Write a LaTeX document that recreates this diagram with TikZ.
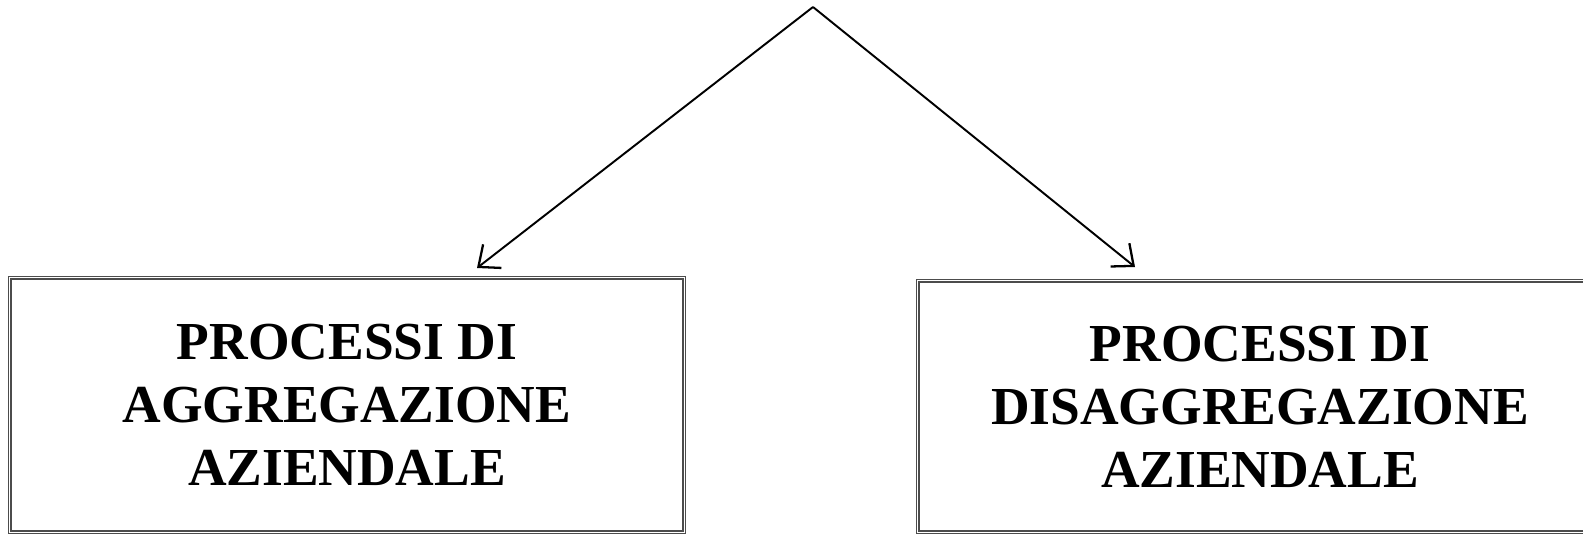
\documentclass[tikz,border=0pt]{standalone}
\usepackage{fontspec}
\setmainfont{Liberation Serif}
\usetikzlibrary{arrows.meta}

\begin{document}
\begin{tikzpicture}[x=0.01cm, y=-0.01cm]
    \useasboundingbox (0,0) rectangle (1583,533);
    \tikzset{
        procbox/.style={draw=black!70, double, double distance=0.3pt, line width=0.4pt,
            align=center, font=\bfseries\fontsize{15.2}{17.9}\selectfont},
        arr/.style={-{Straight Barb[length=5pt, width=8.5pt, line width=0.65pt]}, line width=0.55pt}
    }
    % the two boxes
    \node[procbox, minimum width=6.74cm, minimum height=2.54cm] (agg) at (347,405)
        {PROCESSI DI\\AGGREGAZIONE\\AZIENDALE};
    \node[procbox, minimum width=6.84cm, minimum height=2.51cm] (disagg) at (1260,406.5)
        {PROCESSI DI\\DISAGGREGAZIONE\\AZIENDALE};

    % apex and arrow ends
    \coordinate (apex) at (813,7);
    \coordinate (aggend) at (477,268);
    \coordinate (disaggend) at (1135,267);

    \draw[arr] (apex) -- (aggend);
    \draw[arr] (apex) -- (disaggend);
\end{tikzpicture}
\end{document}
